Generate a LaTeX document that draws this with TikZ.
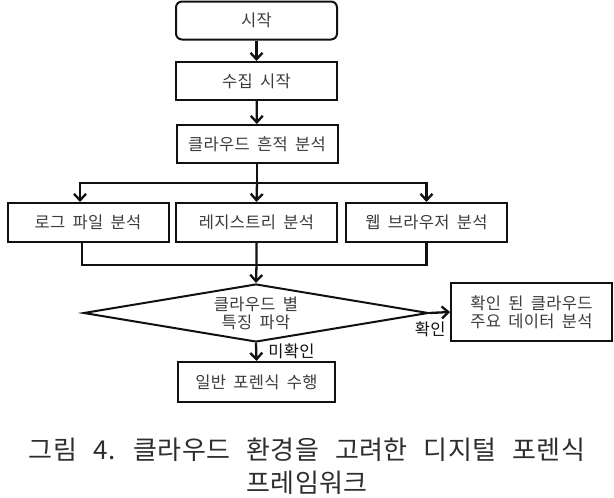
\documentclass[tikz,border=0pt]{standalone}
\usepackage{fontspec}
\newfontfamily\krfont[WordSpace=1.8,LetterSpace=2]{Noto Sans CJK KR}
\newfontfamily\capfont[WordSpace=2.6,LetterSpace=1.5]{Noto Sans CJK KR}
\usepackage{tikz}
\usetikzlibrary{arrows.meta,shapes.geometric}
\definecolor{flowink}{HTML}{111111}
\definecolor{flowtext}{HTML}{3C3C3C}
\definecolor{captext}{HTML}{2E2E2E}

\begin{document}
\begin{tikzpicture}[x=1pt,y=-1pt,line join=miter,
  font=\krfont\fontsize{16.5}{19}\selectfont,text=flowtext,
  box/.style={draw=flowink,line width=2pt,fill=white,align=center,inner sep=2pt,
    minimum width=161pt,minimum height=38pt},
  startbox/.style={box,rounded corners=6pt},
  decbox/.style={draw=flowink,line width=2pt,diamond,aspect=5.9,align=center,inner sep=0pt,
    minimum width=345pt,minimum height=58pt},
  line/.style={flowink,line width=2.3pt},
  arr/.style={line,-{Straight Barb[length=6.5pt,width=12pt,line width=2.3pt]}},
  lbl/.style={font=\krfont\fontsize{16.5}{19}\selectfont,inner sep=1pt}]
\path[use as bounding box] (0,0) rectangle (614,498);
\fill[white] (0,0) rectangle (614,498);
\node[startbox] (start) at (256.5,20.5) {시작};
\node[box] (collect) at (256.5,81) {수집 시작};
\node[box] (trace) at (257,144) {클라우드 흔적 분석};
\node[box,minimum height=39pt] (log) at (88,222.5) {로그 파일 분석};
\node[box,minimum height=39pt] (reg) at (256.5,222.5) {레지스트리 분석};
\node[box,minimum height=39pt] (web) at (426.5,222.5) {웹 브라우저 분석};
\node[decbox] (check) at (256,313) {클라우드 별\\[-1pt]특징 파악};
\node[box,minimum height=58pt] (found) at (531.5,312) {확인 된 클라우드\\[-1pt]주요 데이터 분석};
\node[box,minimum width=157pt,minimum height=40pt] (general) at (256.5,382) {일반 포렌식 수행};
\coordinate (split) at (257,183);
\coordinate (merge) at (256.5,265);
\draw[arr] (start)--(collect);
\draw[arr] (collect)--(trace);
\draw[line] (trace.south)--(split);
\draw[arr] (split)-|([xshift=-8]log.north);
\draw[arr] (split)--(reg.north);
\draw[arr] (split)-|(web.north);
\draw[line] ([xshift=-6]log.south)|-(merge)-|(web.south);
\draw[arr] (reg.south)--(merge)--(check.north);
\draw[arr] (check.east)--node[lbl,pos=.03,below=7pt]{확인}(found.west);
\draw[arr] (check.south)--node[lbl,right=10pt,pos=.45]{미확인}(general.north);
\node[font=\capfont\fontsize{26}{33}\selectfont,text=captext,align=center] (caption) at (307,466)
  {그림 4. 클라우드 환경을 고려한 디지털 포렌식\\프레임워크};
\end{tikzpicture}
\end{document}
